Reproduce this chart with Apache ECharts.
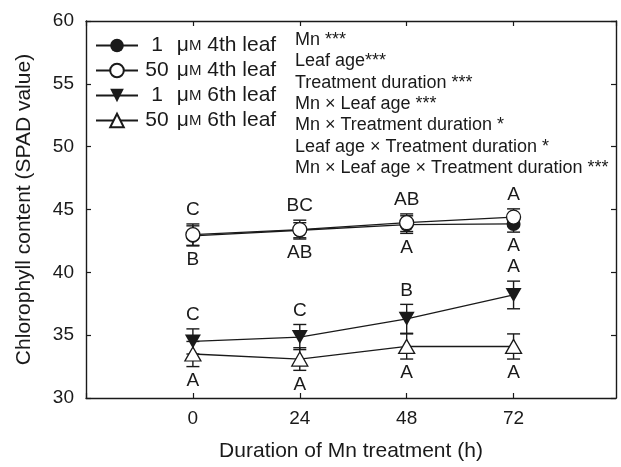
<!DOCTYPE html>
<html><head><meta charset="utf-8">
<script src="https://cdn.jsdelivr.net/npm/echarts@6/dist/echarts.min.js"></script>
<style>html,body{margin:0;padding:0;background:#fff}#c{width:621px;height:467px}</style>
</head><body><div id="c"></div>
<script>
// ---- data ----
const hours = [0, 24, 48, 72];
const xTickLabels = ['0', '24', '48', '72'];
const seriesNames = ['1 μM 4th leaf', '50 μM 4th leaf', '1 μM 6th leaf', '50 μM 6th leaf'];
const mn1Leaf4 = [42.9, 43.35, 43.8, 43.85];
const mn1Leaf4Err = [0.8, 0.6, 0.7, 0.65];
const mn50Leaf4 = [43.0, 43.4, 43.95, 44.4];
const mn50Leaf4Err = [0.85, 0.75, 0.7, 0.65];
const mn1Leaf6 = [34.5, 34.85, 36.3, 38.2];
const mn1Leaf6Err = [1.0, 1.0, 1.15, 1.1];
const mn50Leaf6 = [33.5, 33.1, 34.1, 34.1];
const mn50Leaf6Err = [1.0, 0.9, 1.0, 1.0];
const lettersLeaf4Upper = ['C', 'BC', 'AB', 'A'];
const lettersLeaf4Lower = ['B', 'AB', 'A', 'A'];
const lettersLeaf6Upper = ['C', 'C', 'B', 'A'];
const lettersLeaf6Lower = ['A', 'A', 'A', 'A'];
const anovaLines = ['Mn ***', 'Leaf age***', 'Treatment duration ***', 'Mn × Leaf age ***',
  'Mn × Treatment duration *', 'Leaf age × Treatment duration *', 'Mn × Leaf age × Treatment duration ***'];
const xAxisTitle = 'Duration of Mn treatment (h)';
const yAxisTitle = 'Chlorophyll content (SPAD value)';

// ---- chart ----
const FONT = '"Liberation Sans", Arial, Helvetica, sans-serif';
const INK = '#1a1a1a';
const chart = echarts.init(document.getElementById('c'), null, {renderer: 'canvas'});

const groups = [
  {mean: mn1Leaf4, err: mn1Leaf4Err, symbol: 'circle', fill: INK, size: 14, z: 3},
  {mean: mn50Leaf4, err: mn50Leaf4Err, symbol: 'circle', fill: '#fff', size: 14, z: 4},
  {mean: mn1Leaf6, err: mn1Leaf6Err, symbol: 'path://M0,0L10,0L5,9Z', fill: INK, size: [16, 14], z: 4},
  {mean: mn50Leaf6, err: mn50Leaf6Err, symbol: 'triangle', fill: '#fff', size: [16, 14], z: 3}
];

function errRender(params, api) {
  const x = api.value(0), y = api.value(1), e = api.value(2);
  const hi = api.coord([x, y + e]);
  const lo = api.coord([x, y - e]);
  const cap = 6.5;
  const st = {stroke: INK, lineWidth: 1.4};
  return {type: 'group', children: [
    {type: 'line', shape: {x1: hi[0], y1: hi[1], x2: lo[0], y2: lo[1]}, style: st},
    {type: 'line', shape: {x1: hi[0] - cap, y1: hi[1], x2: hi[0] + cap, y2: hi[1]}, style: st},
    {type: 'line', shape: {x1: lo[0] - cap, y1: lo[1], x2: lo[0] + cap, y2: lo[1]}, style: st}
  ]};
}

const series = [];
groups.forEach((g, i) => {
  series.push({
    name: seriesNames[i], type: 'line', z: g.z,
    data: hours.map((h, k) => [h, g.mean[k]]),
    symbol: g.symbol, symbolSize: g.size, showSymbol: true,
    lineStyle: {color: INK, width: 1.3},
    itemStyle: {color: g.fill, borderColor: INK, borderWidth: g.fill === '#fff' ? 1.3 : 0},
    emphasis: {disabled: true}
  });
  series.push({
    type: 'custom', z: 1, renderItem: errRender,
    data: hours.map((h, k) => [h, g.mean[k], g.err[k]])
  });
});

// letters anchored at error bar ends
function letterSeries(letters, anchors, dir) {
  return {
    type: 'custom', z: 6,
    data: hours.map((h, k) => [h, anchors[k]]),
    renderItem: function (params, api) {
      const p = api.coord([api.value(0), api.value(1)]);
      return {type: 'text', style: {
        text: letters[params.dataIndex], x: p[0], y: p[1] + dir * 14,
        align: 'center', verticalAlign: 'middle', fill: INK,
        font: '19px ' + FONT
      }};
    }
  };
}
const leaf4Top = hours.map((h, k) => Math.max(mn1Leaf4[k] + mn1Leaf4Err[k], mn50Leaf4[k] + mn50Leaf4Err[k]));
const leaf4Bot = hours.map((h, k) => Math.min(mn1Leaf4[k] - mn1Leaf4Err[k], mn50Leaf4[k] - mn50Leaf4Err[k]));
const leaf6Top = hours.map((h, k) => Math.max(mn1Leaf6[k] + mn1Leaf6Err[k], mn50Leaf6[k] + mn50Leaf6Err[k]));
const leaf6Bot = hours.map((h, k) => Math.min(mn1Leaf6[k] - mn1Leaf6Err[k], mn50Leaf6[k] - mn50Leaf6Err[k]));
series.push(letterSeries(lettersLeaf4Upper, leaf4Top, -1));
series.push(letterSeries(lettersLeaf4Lower, leaf4Bot, 1));
series.push(letterSeries(lettersLeaf6Upper, leaf6Top, -1));
series.push(letterSeries(lettersLeaf6Lower, leaf6Bot, 1));

const axisLine = {show: true, onZero: false, lineStyle: {color: INK, width: 1.4}};
const axisTick = {show: true, inside: true, length: 5, lineStyle: {color: INK, width: 1.2}};

chart.setOption({
  animation: false,
  backgroundColor: '#fff',
  textStyle: {fontFamily: FONT},
  grid: {left: 86, top: 21, width: 530, height: 384, containLabel: false},
  xAxis: [{
    type: 'value', min: -24, max: 95, interval: 24, position: 'bottom',
    axisLine: axisLine, axisTick: axisTick, splitLine: {show: false},
    axisLabel: {color: INK, fontSize: 19, fontFamily: FONT, margin: 11,
      showMaxLabel: false,
      formatter: v => { const i = hours.indexOf(v); return i >= 0 ? xTickLabels[i] : ''; }},
    name: xAxisTitle, nameLocation: 'middle', nameGap: 43,
    nameTextStyle: {color: INK, fontSize: 21, fontFamily: FONT}
  }, {
    type: 'value', min: -24, max: 95, interval: 24, position: 'top',
    axisLine: axisLine, axisTick: axisTick, axisLabel: {show: false}, splitLine: {show: false}
  }],
  yAxis: [{
    type: 'value', min: 30, max: 60, interval: 5, position: 'left',
    axisLine: axisLine, axisTick: axisTick, splitLine: {show: false},
    axisLabel: {color: INK, fontSize: 19, fontFamily: FONT, margin: 12},
    name: yAxisTitle, nameLocation: 'middle', nameGap: 51,
    nameTextStyle: {color: INK, fontSize: 21, fontFamily: FONT}
  }, {
    type: 'value', min: 30, max: 60, interval: 5, position: 'right',
    axisLine: axisLine, axisTick: axisTick, axisLabel: {show: false}, splitLine: {show: false}
  }],
  legend: {
    data: seriesNames, orient: 'vertical', left: 95, top: 35,
    itemWidth: 42, itemHeight: 17, itemGap: 4, padding: 0,
    inactiveColor: INK, selectedMode: false,
    formatter: function (name) {
      const parts = name.split(' μM');
      return '{n|' + parts[0] + '}{t| μ}{s|M}{t|' + parts[1] + '}';
    },
    textStyle: {color: INK, fontFamily: FONT, fontSize: 21,
      rich: {
        n: {width: 28, align: 'right', fontSize: 21, fontFamily: FONT, color: INK, lineHeight: 20},
        t: {fontSize: 21, fontFamily: FONT, color: INK, lineHeight: 20},
        s: {fontSize: 15, fontFamily: FONT, color: INK, lineHeight: 20}
      }}
  },
  graphic: [{
    type: 'text', left: 295, top: 29.5, z: 10,
    style: {text: anovaLines.join('\n'), fill: INK, font: '18px ' + FONT, lineHeight: 21.3}
  }],
  series: series
});
</script>
</body></html>
